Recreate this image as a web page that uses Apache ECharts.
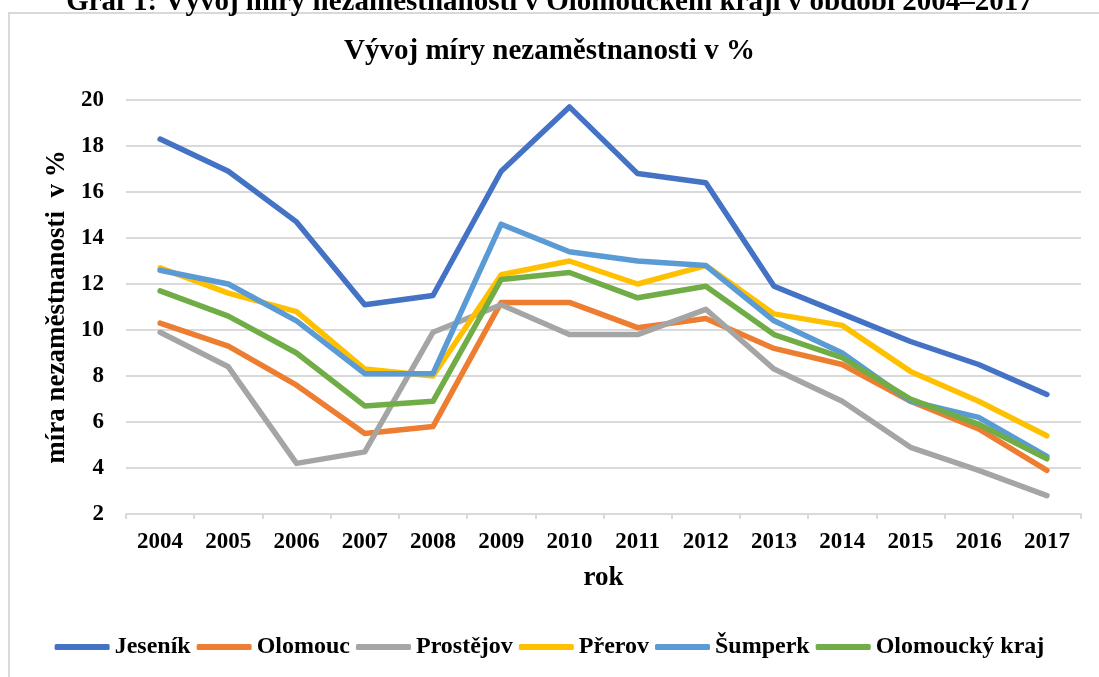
<!DOCTYPE html>
<html>
<head>
<meta charset="utf-8">
<script src="https://cdn.jsdelivr.net/npm/echarts@6/dist/echarts.min.js"></script>
<style>
html,body{margin:0;padding:0;background:#fff;}
#main{width:1099px;height:677px;}
</style>
</head>
<body>
<div id="main"></div>
<script>
var years = ['2004','2005','2006','2007','2008','2009','2010','2011','2012','2013','2014','2015','2016','2017'];

// míra nezaměstnanosti v %
var jesenik   = [18.3,16.9,14.7,11.1,11.5,16.9,19.7,16.8,16.4,11.9,10.7,9.5,8.5,7.2];
var olomouc   = [10.3,9.3,7.6,5.5,5.8,11.2,11.2,10.1,10.5,9.2,8.5,6.9,5.7,3.9];
var prostejov = [9.9,8.4,4.2,4.7,9.9,11.1,9.8,9.8,10.9,8.3,6.9,4.9,3.9,2.8];
var prerov    = [12.7,11.6,10.8,8.3,8.0,12.4,13.0,12.0,12.8,10.7,10.2,8.2,6.9,5.4];
var sumperk   = [12.6,12.0,10.4,8.1,8.1,14.6,13.4,13.0,12.8,10.4,9.0,6.9,6.2,4.5];
var olKraj    = [11.7,10.6,9.0,6.7,6.9,12.2,12.5,11.4,11.9,9.8,8.8,7.0,5.9,4.4];

var names  = ['Jeseník','Olomouc','Prostějov','Přerov','Šumperk','Olomoucký kraj'];
var colors = ['#4472C4','#ED7D31','#A5A5A5','#FFC000','#5B9BD5','#70AD47'];
var values = [jesenik, olomouc, prostejov, prerov, sumperk, olKraj];

var font = '"Liberation Serif","Times New Roman",serif';

var chart = echarts.init(document.getElementById('main'));

var option = {
  animation: false,
  color: colors,
  textStyle: {fontFamily: font, color: '#000', fontWeight: 'bold'},
  graphic: [
    {
      type: 'rect',
      shape: {x: 9, y: 13, width: 1200, height: 800},
      style: {fill: null, stroke: '#D9D9D9', lineWidth: 2}
    },
    {
      type: 'text',
      left: 'center',
      top: -12,
      style: {
        text: 'Graf 1: Vývoj míry nezaměstnanosti v Olomouckém kraji v období 2004–2017',
        font: 'bold 29px ' + font,
        fill: '#000'
      }
    }
  ],
  title: {
    text: 'Vývoj míry nezaměstnanosti v %',
    left: 'center',
    top: 32,
    textStyle: {fontFamily: font, fontSize: 29, fontWeight: 'bold', color: '#000'}
  },
  legend: {
    bottom: 13,
    left: 'center',
    itemWidth: 55,
    itemHeight: 6,
    itemGap: 6,
    icon: 'roundRect',
    textStyle: {fontFamily: font, fontSize: 24, fontWeight: 'bold', color: '#000'},
    data: names
  },
  grid: {left: 126, right: 18, top: 100, bottom: 163},
  xAxis: {
    type: 'category',
    data: years,
    name: 'rok',
    nameLocation: 'middle',
    nameGap: 51,
    nameTextStyle: {fontFamily: font, fontSize: 27, fontWeight: 'bold', color: '#000'},
    axisLine: {lineStyle: {color: '#D9D9D9', width: 2}},
    axisTick: {show: true, length: 5, lineStyle: {color: '#D9D9D9', width: 2}},
    axisLabel: {fontFamily: font, fontSize: 23, fontWeight: 'bold', color: '#000', margin: 17}
  },
  yAxis: {
    type: 'value',
    min: 2,
    max: 20,
    interval: 2,
    name: 'míra nezaměstnanosti  v %',
    nameLocation: 'middle',
    nameRotate: 90,
    nameGap: 48,
    nameTextStyle: {fontFamily: font, fontSize: 27, fontWeight: 'bold', color: '#000'},
    axisLine: {show: false},
    axisTick: {show: false},
    splitLine: {lineStyle: {color: '#D9D9D9', width: 2}},
    axisLabel: {fontFamily: font, fontSize: 23, fontWeight: 'bold', color: '#000', margin: 22}
  },
  series: names.map(function (n, i) {
    return {
      name: n,
      type: 'line',
      data: values[i],
      symbol: 'none',
      lineStyle: {width: 5.5, color: colors[i], cap: 'round', join: 'round'}
    };
  })
};

chart.setOption(option);
</script>
</body>
</html>
